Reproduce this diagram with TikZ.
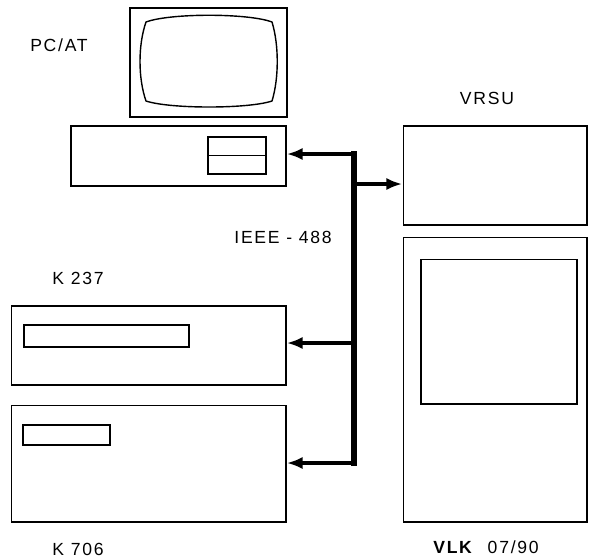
\documentclass[tikz,border=0pt]{standalone}
\usepackage{fontspec}
\setmainfont[LetterSpace=10]{Liberation Sans}
\usetikzlibrary{arrows.meta}
\tikzset{
  box/.style={draw,line width=0.6pt,inner sep=0pt,outer sep=0pt},
  buslink/.style={line width=2pt,-{Latex[length=9pt,width=7pt]},shorten >=0.5pt},
  bus/.style={line width=3pt,line cap=rect},
  lbl/.style={font=\fontsize{10}{12}\selectfont,inner sep=0pt}
}
\begin{document}
\begin{tikzpicture}[x=0.02cm,y=-0.02cm]
\useasboundingbox (0,0) rectangle (597,559);
% PC
\node[box,minimum width=3.14cm,minimum height=2.18cm] (monitor) at (208.5,62.5) {};
\draw[line width=0.8pt] (146,22) .. controls (170,13) and (248,13) .. (272,22)
   .. controls (279,45) and (279,78) .. (272,101)
   .. controls (248,109) and (170,109) .. (146,101)
   .. controls (138,78) and (138,45) .. (146,22) -- cycle;
\node[box,minimum width=4.3cm,minimum height=1.2cm] (base) at (178.5,156) {};
\node[box,minimum width=1.16cm,minimum height=0.74cm] (drive) at (237,155.5) {};
\draw[line width=0.6pt] (drive.west) -- (drive.east);
% meters
\node[box,minimum width=5.5cm,minimum height=1.58cm] (kone) at (148.5,345.5) {};
\node[box,minimum width=3.3cm,minimum height=0.44cm] (koneslot) at (106.5,336) {};
\node[box,minimum width=5.5cm,minimum height=2.34cm] (ktwo) at (148.5,463.5) {};
\node[box,minimum width=1.74cm,minimum height=0.4cm] (ktwoslot) at (66.5,435) {};
% VRSU
\node[box,minimum width=3.68cm,minimum height=1.98cm] (vrsu) at (495,175.5) {};
\node[box,minimum width=3.68cm,minimum height=5.7cm] (rack) at (495,379.5) {};
\node[box,minimum width=3.12cm,minimum height=2.9cm] (screen) at (499,331.5) {};
% bus
\coordinate (bustop) at (354,154);
\coordinate (busone) at (354,343);
\coordinate (busbot) at (354,463);
\coordinate (busvrsu) at (354,184);
\draw[bus] (bustop) -- (busbot);
\draw[buslink] (bustop) -- (bustop -| base.east);
\draw[buslink] (busone) -- (busone -| kone.east);
\draw[buslink] (busbot) -- (busbot -| ktwo.east);
\draw[buslink] (busvrsu) -- (busvrsu -| vrsu.west);
% labels
\node[lbl] (pcat) at (59,45) {PC/AT};
\node[lbl] (vrsulbl) at (487,98) {VRSU};
\node[lbl] (ieee) at (283,237) {IEEE - 488};
\node[lbl] (konelbl) at (78,278) {K 237};
\node[lbl] (ktwolbl) at (78,549) {K 706};
\node[lbl] (vlk) at (486,547) {\textbf{VLK}\hspace{0.8em}07/90};
\end{tikzpicture}
\end{document}
